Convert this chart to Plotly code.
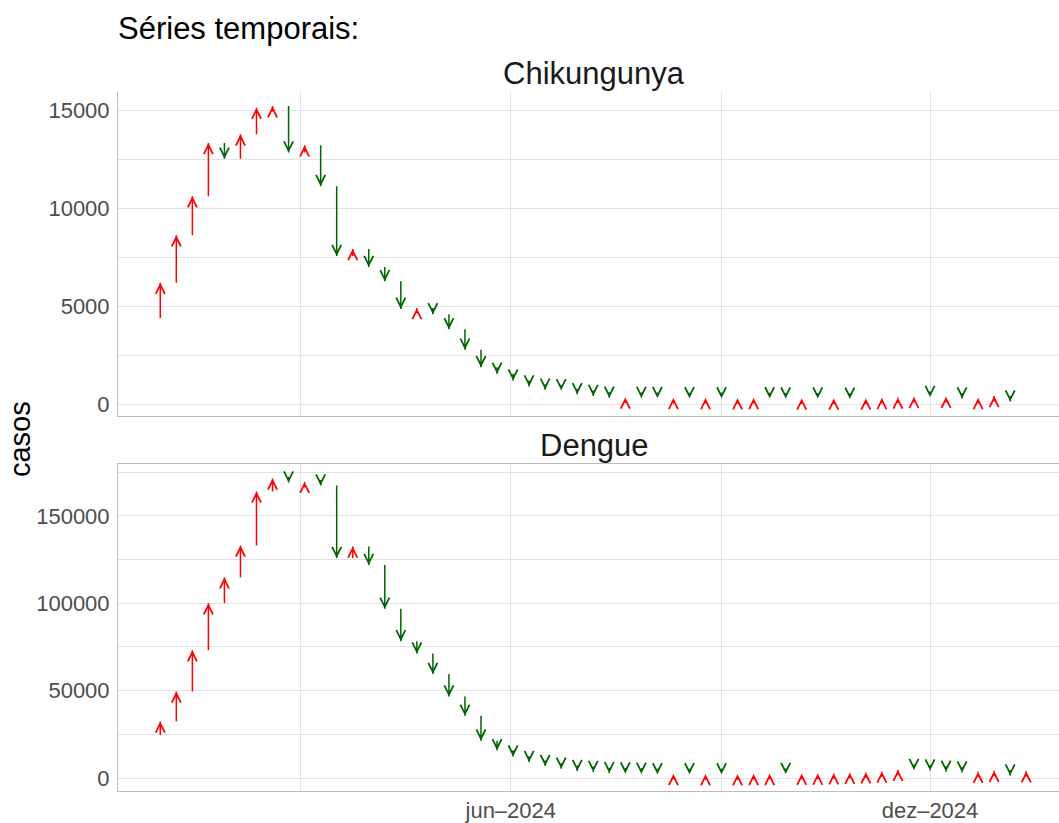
import pandas as pd
import plotly.graph_objects as go

# Weekly dates: first entry is the week before the first arrow (arrow tail)
semanas = pd.date_range("2023-12-24", periods=56, freq="7D")

chik = [4400,
        6190, 8615, 10600, 13320, 12510, 13760, 15120, 15200, 12830, 13200,
        11120, 7560, 7920, 6990, 6265, 4860, 4900, 4580, 3820, 2780,
        1886, 1550, 1210, 906, 740, 705, 503, 420, 330, 340,
        320, 310, 320, 300, 310, 300, 305, 315, 305, 290,
        295, 285, 290, 280, 290, 310, 340, 370, 360, 380,
        290, 310, 420, 140]

dengue = [24600,
          32400, 49500, 73100, 100000, 114800, 133000, 163900, 171300, 169000, 169500,
          167300, 125800, 132500, 121800, 96800, 78300, 71200, 59500, 46600, 35600,
          21400, 15900, 12300, 9150, 6870, 5340, 4000, 3500, 2800, 2600,
          2400, 2200, 2300, 2150, 2250, 2200, 2250, 2300, 2400, 2350,
          2450, 2550, 2800, 3100, 3300, 3800, 4700, 4600, 4300, 3600,
          3200, 3600, 4200, 1400, 3900]

x_tickvals = ["2024-03-01", "2024-06-01", "2024-09-01", "2024-12-01"]
x_ticktext = ["", "jun\u20132024", "", "dez\u20132024"]
chik_tickvals = [0, 2500, 5000, 7500, 10000, 12500, 15000]
chik_ticktext = ["0", "", "5000", "", "10000", "", "15000"]
den_tickvals = [0, 25000, 50000, 75000, 100000, 125000, 150000, 175000]
den_ticktext = ["0", "", "50000", "", "100000", "", "150000", ""]

COR_SOBE = "#ff0000"
COR_DESCE = "#006400"
FONT = "Liberation Sans"
GRID = "#e2e2e2"
AXLINE = "#bdbdbd"

fig = go.Figure()
annotations = []


def add_series(vals, xref, yref):
    # shafts: one line trace per colour, segments from previous to current value
    segs = {COR_SOBE: ([], []), COR_DESCE: ([], [])}
    for i in range(1, len(vals)):
        d = semanas[i].strftime("%Y-%m-%d")
        cor = COR_SOBE if vals[i] > vals[i - 1] else COR_DESCE
        xs, ys = segs[cor]
        xs += [d, d, None]
        ys += [vals[i - 1], vals[i], None]
        # arrow head: short fixed-pixel arrow ending at the current value
        annotations.append(dict(
            x=d, y=vals[i], xref=xref, yref=yref,
            ax=0, ay=(6 if cor == COR_SOBE else -6), axref="pixel", ayref="pixel",
            text="", showarrow=True, arrowhead=5, arrowsize=1.2,
            arrowwidth=1.5, arrowcolor=cor, standoff=0, borderpad=0,
            font=dict(size=1),
        ))
    for cor, (xs, ys) in segs.items():
        fig.add_trace(go.Scatter(x=xs, y=ys, mode="lines",
                                 line=dict(color=cor, width=1.5),
                                 hoverinfo="skip", showlegend=False,
                                 xaxis=xref, yaxis=yref))


add_series(chik, "x", "y")
add_series(dengue, "x2", "y2")

W, H = 1059, 823
ML, MR, MT, MB = 118, 0, 92, 28
plot_w = W - ML - MR
plot_h = H - MT - MB


def py(pix):
    return (H - MB - pix) / plot_h


def px(pix):
    return (pix - ML) / plot_w


annotations += [
    dict(text="Chikungunya", x=px(594), y=py(73), xref="paper", yref="paper",
         showarrow=False, xanchor="center", yanchor="middle",
         font=dict(family=FONT, size=31, color="#1a1a1a")),
    dict(text="Dengue", x=px(594), y=py(448), xref="paper", yref="paper",
         showarrow=False, xanchor="center", yanchor="middle",
         font=dict(family=FONT, size=31, color="#1a1a1a")),
    dict(text="casos", x=px(20), y=py(441), xref="paper", yref="paper",
         showarrow=False, xanchor="center", yanchor="middle", textangle=-90,
         font=dict(family=FONT, size=29, color="#000000")),
]

xrange = ["2023-12-12 13:00", "2025-01-26 07:30"]

xcommon = dict(range=xrange, type="date", tickvals=x_tickvals, ticktext=x_ticktext,
               showgrid=True, gridcolor=GRID, gridwidth=1, zeroline=False,
               showline=True, linecolor=AXLINE, linewidth=1, ticks="",
               tickfont=dict(family=FONT, size=22, color="#4d4d4d"))
ycommon = dict(showgrid=True, gridcolor=GRID, gridwidth=1, zeroline=False,
               showline=True, linecolor=AXLINE, linewidth=1, ticks="",
               ticklabelstandoff=3,
               tickfont=dict(family=FONT, size=22, color="#4d4d4d"))

fig.update_layout(
    width=W, height=H,
    margin=dict(l=ML, r=MR, t=MT, b=MB, pad=0),
    paper_bgcolor="white", plot_bgcolor="white",
    showlegend=False,
    title=dict(text="Séries temporais:", x=ML / W, xanchor="left",
               y=1 - 28 / H, yanchor="middle", xref="container", yref="container",
               font=dict(family=FONT, size=31, color="#000000")),
    xaxis=dict(xcommon, anchor="y", domain=[0, 1], showticklabels=False),
    xaxis2=dict(xcommon, anchor="y2", domain=[0, 1], matches="x", mirror=True),
    yaxis=dict(ycommon, anchor="x", domain=[py(418), 1], range=[-610, 15920],
               tickvals=chik_tickvals, ticktext=chik_ticktext),
    yaxis2=dict(ycommon, anchor="x2", domain=[0, py(466)], range=[-7400, 179700],
                tickvals=den_tickvals, ticktext=den_ticktext),
    annotations=annotations,
)

fig.write_html(
    "out.html",
    config={"displayModeBar": False},
    post_script="document.body.style.margin='0';"
                "document.documentElement.style.overflow='hidden';"
                "document.body.style.overflow='hidden';",
)
